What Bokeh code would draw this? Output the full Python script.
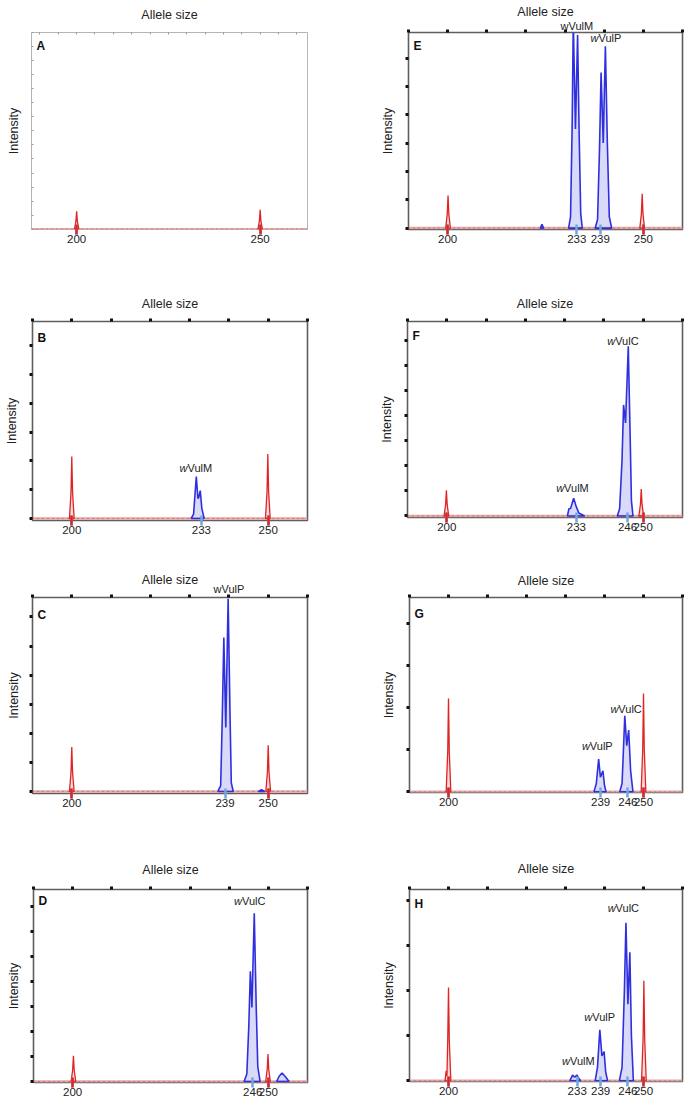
from bokeh.plotting import figure
from bokeh.models import Range1d, LinearAxis, FixedTicker, Label
from bokeh.layouts import column, row
from bokeh.embed import file_html
from bokeh.resources import INLINE

FONT = "Liberation Sans"

# ------------------------------------------------------------------ data
# allele-size tick labels shown under each panel
TICKS = {
    "A": [200, 250],
    "B": [200, 233, 250],
    "C": [200, 239, 250],
    "D": [200, 246, 250],
    "E": [200, 233, 239, 250],
    "F": [200, 233, 246, 250],
    "G": [200, 239, 246, 250],
    "H": [200, 233, 239, 246, 250],
}
SIZE_STANDARD = [200, 250]

# size-standard (red) peaks: one list per peak (allele size, intensity)
RED_A_X = [[199.4, 199.8, 200.0, 200.2, 200.6], [249.4, 249.8, 250.0, 250.2, 250.6]]
RED_A_Y = [[0, 0.55, 1.28, 0.55, 0], [0, 0.6, 1.38, 0.6, 0]]
RED_B_X = [[199.4, 199.8, 200.0, 200.2, 200.6], [249.3, 249.7, 249.9, 250.1, 250.5]]
RED_B_Y = [[0, 0.9, 2.15, 0.9, 0], [0, 0.95, 2.24, 0.95, 0]]
RED_C_X = [[199.4, 199.8, 200.0, 200.2, 200.6], [249.4, 249.8, 250.0, 250.2, 250.6]]
RED_C_Y = [[0, 0.65, 1.53, 0.65, 0], [0, 0.68, 1.59, 0.68, 0]]
RED_D_X = [[199.6, 200.0, 200.2, 200.4, 200.8], [249.3, 249.7, 249.9, 250.1, 250.5]]
RED_D_Y = [[0, 0.45, 1.03, 0.45, 0], [0, 0.48, 1.10, 0.48, 0]]
RED_E_X = [[199.5, 199.9, 200.1, 200.3, 200.7], [249.1, 249.5, 249.7, 249.9, 250.3]]
RED_E_Y = [[0, 0.5, 1.15, 0.5, 0], [0, 0.52, 1.21, 0.52, 0]]
RED_F_X = [[199.3, 199.7, 199.9, 200.1, 200.5], [248.9, 249.3, 249.5, 249.7, 250.1]]
RED_F_Y = [[0, 0.45, 1.02, 0.45, 0], [0, 0.47, 1.07, 0.47, 0]]
RED_G_X = [[199.4, 199.8, 200.0, 200.2, 200.6], [249.4, 249.8, 250.0, 250.2, 250.6]]
RED_G_Y = [[0, 0.95, 2.22, 0.95, 0], [0, 1.0, 2.34, 1.0, 0]]
RED_H_X = [[199.1, 199.4, 199.6, 199.8, 200.0, 200.2, 200.6], [249.5, 249.9, 250.1, 250.3, 250.7]]
RED_H_Y = [[0, 0.22, 0.1, 0.9, 2.07, 0.9, 0], [0, 0.95, 2.22, 0.95, 0]]

# Wolbachia strain (blue) peaks
BLUE_A_X, BLUE_A_Y = [], []
BLUE_B_X = [[230.4, 231.0, 231.4, 231.7, 232.1, 232.3, 232.7, 233.1, 233.7]]
BLUE_B_Y = [[0, 0.15, 0.9, 1.46, 0.7, 0.72, 0.97, 0.35, 0]]
BLUE_C_X = [[237.2, 237.9, 238.3, 238.7, 239.2, 239.8, 240.3, 240.6, 241.1],
            [247.5, 248.3, 249.1]]
BLUE_C_Y = [[0, 0.2, 2.5, 5.29, 2.2, 6.63, 2.5, 0.3, 0],
            [0, 0.06, 0]]
BLUE_D_X = [[243.8, 244.5, 245.0, 245.4, 245.8, 246.4, 246.9, 247.3, 247.9],
            [252.1, 252.8, 253.5, 254.3, 255.3]]
BLUE_D_Y = [[0, 0.3, 2.2, 4.42, 2.97, 6.75, 3.0, 0.6, 0],
            [0, 0.22, 0.34, 0.2, 0]]
BLUE_E_X = [[230.9, 231.4, 231.8, 232.1, 232.65, 233.2, 233.6, 234.0, 234.4],
            [237.7, 238.3, 238.8, 239.2, 239.75, 240.3, 240.8, 241.3, 241.9],
            [223.7, 224.1, 224.5]]
BLUE_E_Y = [[0, 0.4, 3.5, 7.3, 3.5, 6.81, 3.3, 0.5, 0],
            [0, 0.3, 2.8, 5.49, 3.0, 6.41, 3.0, 0.4, 0],
            [0, 0.13, 0]]
BLUE_F_X = [[230.7, 231.1, 231.5, 232.3, 232.9, 233.6, 235.1],
            [243.4, 244.0, 244.6, 245.0, 245.5, 246.2, 246.7, 247.0, 247.4]]
BLUE_F_Y = [[0, 0.29, 0.3, 0.71, 0.4, 0.12, 0],
            [0, 0.3, 2.2, 4.42, 3.7, 6.75, 3.0, 0.6, 0]]
BLUE_G_X = [[237.3, 237.9, 238.5, 238.95, 239.6, 240.0, 240.4],
            [243.9, 244.5, 244.9, 245.2, 245.7, 246.2, 246.7, 247.3]]
BLUE_G_Y = [[0, 0.2, 0.78, 0.35, 0.5, 0.15, 0],
            [0, 0.2, 1.1, 1.81, 1.1, 1.47, 0.5, 0]]
BLUE_H_X = [[231.1, 231.5, 231.8, 232.35, 232.9, 233.4, 233.9],
            [237.6, 238.2, 238.8, 239.35, 239.9, 240.3, 240.8],
            [243.8, 244.5, 245.1, 245.5, 246.0, 246.5, 246.9, 247.4]]
BLUE_H_Y = [[0, 0.07, 0.13, 0.08, 0.13, 0.06, 0],
            [0, 0.3, 1.13, 0.55, 0.65, 0.2, 0],
            [0, 0.3, 2.0, 3.5, 1.7, 2.85, 1.0, 0]]

# peak annotations inside the plot area: (strain suffix, allele size, intensity)
PEAK_LABELS = {
    "A": [],
    "B": [("VulM", 231.5, 1.77)],
    "C": [],
    "D": [("VulC", 245.3, 7.22)],
    "E": [("VulP", 240.6, 6.69)],
    "F": [("VulM", 231.9, 1.13), ("VulC", 244.9, 6.97)],
    "G": [("VulP", 238.3, 1.09), ("VulC", 245.6, 1.96)],
    "H": [("VulM", 233.2, 0.44), ("VulP", 238.9, 1.42), ("VulC", 244.9, 3.82)],
}
# peak annotations that sit above the plot area: (label, allele size)
TOP_LABELS = {"C": [("wVulP", 240)], "E": [("wVulM", 233)]}

RED = {"A": (RED_A_X, RED_A_Y), "B": (RED_B_X, RED_B_Y), "C": (RED_C_X, RED_C_Y),
       "D": (RED_D_X, RED_D_Y), "E": (RED_E_X, RED_E_Y), "F": (RED_F_X, RED_F_Y),
       "G": (RED_G_X, RED_G_Y), "H": (RED_H_X, RED_H_Y)}
BLUE = {"A": (BLUE_A_X, BLUE_A_Y), "B": (BLUE_B_X, BLUE_B_Y), "C": (BLUE_C_X, BLUE_C_Y),
        "D": (BLUE_D_X, BLUE_D_Y), "E": (BLUE_E_X, BLUE_E_Y), "F": (BLUE_F_X, BLUE_F_Y),
        "G": (BLUE_G_X, BLUE_G_Y), "H": (BLUE_H_X, BLUE_H_Y)}

# ------------------------------------------------------------------ layout
X_RANGE = {k: (190, 260) for k in "BCDEFGH"}
X_RANGE["A"] = (187.7, 262.9)
Y_RANGE = {"A": (-0.02, 14.0), "B": (-0.07, 6.84), "C": (-0.07, 6.67), "D": (-0.04, 7.7),
           "E": (-0.05, 6.9), "F": (-0.06, 7.74), "G": (-0.015, 4.62), "H": (-0.015, 4.24)}

# (border_left, frame_w, border_right, border_top, frame_h, border_bottom)
GEOM = {
    "A": (31, 276, 40, 32, 197, 51), "E": (61, 274, 11, 32, 197, 51),
    "B": (32, 275, 40, 38, 199, 41), "F": (60, 275, 11, 41, 196, 41),
    "C": (32, 275, 40, 39, 196, 47), "G": (62, 273, 11, 39, 195, 48),
    "D": (33, 274, 40, 49, 193, 22), "H": (62, 273, 11, 49, 192, 23),
}
TITLE_OFF = {"A": 21, "B": 18, "C": 16, "D": 20, "E": 19, "F": 18, "G": 17, "H": 21}
TOPLAB_OFF = {"C": 9, "E": 7}
YLAB_OFF = {"A": 21, "B": 21, "C": 19, "D": 20, "E": 21, "F": 21, "G": 21, "H": 21}
LETTER_OFF = {"A": 8, "B": 11, "C": 12, "D": 6, "E": 8, "F": 9, "G": 11, "H": 9}

H125, H11 = 14.4, 12.7      # approximate text box heights
TICK_OUT = 3

BLUE_LINE, BLUE_FILL = "#2f2fe0", "#b9b9f2"
RED_LINE, RED_FILL = "#e02424", "#f5b5b5"
MARK_BLUE = "#6fa8dc"
TXT = "#222222"


def make_panel(key):
    bl, fw, br, bt, fh, bb = GEOM[key]
    xr, yr = X_RANGE[key], Y_RANGE[key]
    light = key == "A"
    p = figure(frame_width=fw, frame_height=fh, title=None,
               x_range=Range1d(*xr), y_range=Range1d(*yr),
               min_border_left=bl, min_border_right=br,
               min_border_top=bt, min_border_bottom=bb,
               output_backend="svg", toolbar_location=None)
    p.grid.visible = False
    p.background_fill_color = "white"
    p.border_fill_color = "white"
    p.outline_line_color = "#b5b5b5" if light else "#5e5e5e"
    p.outline_line_width = 1 if light else 1.6

    tick_col = "#9a9a9a" if light else "#111111"

    # bottom axis: allele sizes with coloured marks (size standard drawn red on top)
    xa = p.xaxis[0]
    xa.ticker = FixedTicker(ticks=TICKS[key],
                            minor_ticks=[t for t in TICKS[key] if t in SIZE_STANDARD])
    xa.axis_line_color = None
    xa.major_tick_in, xa.major_tick_out = 5, 5
    xa.major_tick_line_width = 2.5
    xa.major_tick_line_color = MARK_BLUE
    xa.minor_tick_in, xa.minor_tick_out = 5, 5
    xa.minor_tick_line_width = 2.5
    xa.minor_tick_line_color = RED_LINE
    xa.major_label_standoff = 0
    xa.major_label_text_font = FONT
    xa.major_label_text_font_size = "11.5px"
    xa.major_label_text_color = TXT

    # left axis: intensity ticks (no numbers) + label
    ya = p.yaxis[0]
    ya.ticker = FixedTicker(ticks=[], minor_ticks=list(range(0, int(yr[1]) + 1)))
    ya.axis_line_color = None
    ya.major_tick_out = TICK_OUT
    ya.major_tick_in = 0
    if light:
        ya.minor_tick_in, ya.minor_tick_out = 2, 0
        ya.minor_tick_line_width = 1
    else:
        ya.minor_tick_in, ya.minor_tick_out = 0, 3
        ya.minor_tick_line_width = 3
    ya.minor_tick_line_color = tick_col
    ya.axis_label = "Intensity"
    ya.axis_label_standoff = int(round(YLAB_OFF[key] - TICK_OUT - H125 / 2))
    ya.axis_label_text_font = FONT
    ya.axis_label_text_font_style = "normal"
    ya.axis_label_text_font_size = "12.5px"
    ya.axis_label_text_color = TXT

    # top axis: dotted size scale
    step = 5 if light else 10
    ta = LinearAxis(ticker=FixedTicker(ticks=[], minor_ticks=list(range(190, 261, step))))
    ta.axis_line_color = None
    ta.major_tick_out = TICK_OUT
    ta.major_tick_in = 0
    if light:
        ta.minor_tick_in, ta.minor_tick_out = 2, 0
        ta.minor_tick_line_width = 1
    else:
        ta.minor_tick_in, ta.minor_tick_out = 0, 3
        ta.minor_tick_line_width = 3
    ta.minor_tick_line_color = tick_col
    p.add_layout(ta, "above")

    # outer top axis: peak labels above the box + "Allele size"
    tops = TOP_LABELS.get(key, [])
    oa = LinearAxis(ticker=FixedTicker(ticks=[x for _, x in tops]),
                    major_label_overrides={x: t for t, x in tops})
    oa.axis_line_color = None
    oa.major_tick_line_color = None
    oa.major_tick_in = oa.major_tick_out = 0
    oa.major_label_text_font = FONT
    oa.major_label_text_font_size = "11px"
    oa.major_label_text_color = TXT
    if tops:
        sl = int(round(TOPLAB_OFF[key] - TICK_OUT - H11 / 2))
        oa.major_label_standoff = sl
        used = TICK_OUT + sl + H11
    else:
        used = TICK_OUT
    oa.axis_label = "Allele size"
    oa.axis_label_standoff = int(round(TITLE_OFF[key] - used - H125 / 2))
    oa.axis_label_text_font = FONT
    oa.axis_label_text_font_style = "normal"
    oa.axis_label_text_font_size = "12.5px"
    oa.axis_label_text_color = TXT
    p.add_layout(oa, "above")

    # baseline noise trace
    p.line([xr[0], xr[1]], [0, 0], line_color="#e9a3a3", line_width=2.5)
    p.line([xr[0], xr[1]], [0, 0], line_color="#333333", line_width=1,
           line_dash="1 4", line_alpha=0.55)

    # peaks
    rx, ry = RED[key]
    bx, by = BLUE[key]
    if bx:
        p.patches(bx, by, fill_color=BLUE_FILL, fill_alpha=0.55,
                  line_color=BLUE_LINE, line_width=1.6)
    p.patches(rx, ry, fill_color=RED_FILL, fill_alpha=0.5,
              line_color=RED_LINE, line_width=1.3)

    # panel letter
    p.add_layout(Label(x=xr[0], y=yr[1], x_offset=5, y_offset=-(LETTER_OFF[key] - 2),
                       text=key, text_align="left", text_baseline="top",
                       text_font=FONT, text_font_style="bold",
                       text_font_size="12px", text_color="#111111"))
    # peak names inside the box: italic "w" + strain
    for suffix, lx, ly in PEAK_LABELS[key]:
        p.add_layout(Label(x=lx, y=ly, x_offset=-8, text="w", text_align="right",
                           text_baseline="middle", text_font=FONT,
                           text_font_style="italic", text_font_size="11px",
                           text_color=TXT))
        p.add_layout(Label(x=lx, y=ly, x_offset=-8, text=suffix, text_align="left",
                           text_baseline="middle", text_font=FONT,
                           text_font_size="11px", text_color=TXT))
    return p


panels = {k: make_panel(k) for k in "ABCDEFGH"}
layout = column(
    row(panels["A"], panels["E"]),
    row(panels["B"], panels["F"]),
    row(panels["C"], panels["G"]),
    row(panels["D"], panels["H"]),
)

open("out.html", "w").write(file_html(layout, INLINE))
